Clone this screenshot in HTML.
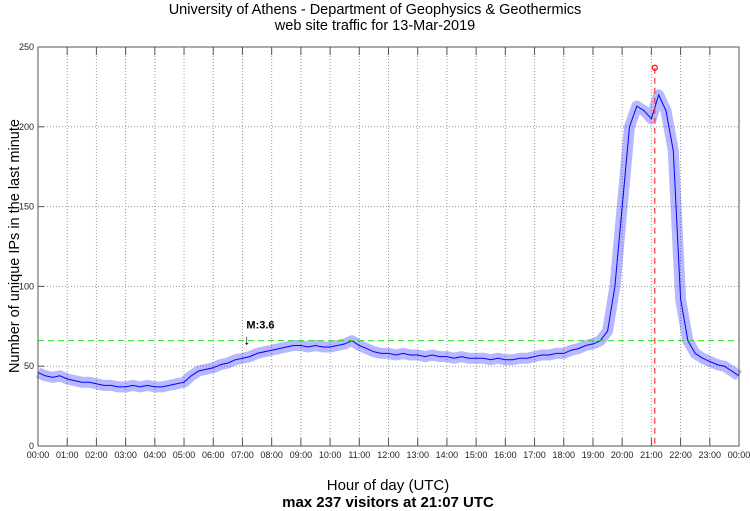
<!DOCTYPE html>
<html><head><meta charset="utf-8"><style>
body{margin:0;background:#fff;}
svg{display:block;font-family:"Liberation Sans",sans-serif;}
</style></head><body>
<svg id="chart" width="750" height="511" viewBox="0 0 750 511" xmlns="http://www.w3.org/2000/svg">
<text x="375" y="14" text-anchor="middle" font-size="14.5">University of Athens - Department of Geophysics &amp; Geothermics</text>
<text x="375" y="30" text-anchor="middle" font-size="14.5">web site traffic for 13-Mar-2019</text>
<text transform="translate(19,246) rotate(-90)" text-anchor="middle" font-size="14.5">Number of unique IPs in the last minute</text>
<text x="388" y="490" text-anchor="middle" font-size="15">Hour of day (UTC)</text>
<text x="388" y="507" text-anchor="middle" font-size="15" font-weight="bold">max 237 visitors at 21:07 UTC</text>
<g id="grid"></g>
<g id="series"></g>
<rect x="38" y="47" width="701" height="399" fill="none" stroke="#555" stroke-width="1"/>
</svg>
<script>
const hours = ["00:00","01:00","02:00","03:00","04:00","05:00","06:00","07:00","08:00","09:00","10:00","11:00","12:00","13:00","14:00","15:00","16:00","17:00","18:00","19:00","20:00","21:00","22:00","23:00","00:00"];
const yTicks = [0,50,100,150,200,250];
// visitors sampled every 15 minutes from 00:00 to 24:00
const visitors = [46,44,43,44, 42,41,40,40, 39,38,38,37, 37,38,37,38, 37,37,38,39, 40,44,47,48,
 49,51,52,54, 55,56,58,59, 60,61,62,63, 63,62,63,62, 62,63,64,66, 63,61,59,58, 58,57,58,57,
 57,56,57,56, 56,55,56,55, 55,55,54,55, 54,54,55,55, 56,57,57,58, 58,60,61,63, 64,66,72,100,
 150,200,213,210, 205,220,210,185, 92,66,58,55, 53,51,50,47, 44];
const sampleMinutes = 15;
const thresholdValue = 66;
const eventLabel = "M:3.6";
const eventHour = 7.17;
const maxValue = 237;
const maxHour = 21 + 7/60;

const X0=38, X1=739, Y0=446, Y1=47;
const xs = h => X0 + h/24*(X1-X0);
const ys = v => Y0 - v/250*(Y0-Y1);
const NS="http://www.w3.org/2000/svg";
function mk(tag, attrs, parent){const e=document.createElementNS(NS,tag);for(const k in attrs)e.setAttribute(k,attrs[k]);parent.appendChild(e);return e;}
const grid=document.getElementById('grid'), series=document.getElementById('series');

hours.forEach((lab,i)=>{
  const x=xs(i);
  if(i>0&&i<24){const l=mk('line',{x1:x,x2:x,y1:Y1,y2:Y0,stroke:'#999','stroke-dasharray':'1,2'},grid);
  
  }
  const t1=mk('line',{x1:x,x2:x,y1:Y0,y2:Y0-8,stroke:'#555'},grid);
  
  
  const t2=mk('line',{x1:x,x2:x,y1:Y1,y2:Y1+8,stroke:'#555'},grid);
  
  
  const tx=mk('text',{x:x,y:458,'text-anchor':'middle','font-size':'9',fill:'#222'},grid);
  tx.textContent=lab;
  
  
});
yTicks.forEach(v=>{
  const y=ys(v);
  if(v>0&&v<250){const l=mk('line',{x1:X0,x2:X1,y1:y,y2:y,stroke:'#999','stroke-dasharray':'1,2'},grid);
  
  }
  const t=mk('line',{x1:X0,x2:X0+6,y1:y,y2:y,stroke:'#555'},grid);
  
  
  const tx=mk('text',{x:34,y:y+3,'text-anchor':'end','font-size':'9',fill:'#222'},grid);
  tx.textContent=v;
  
  
});

const pts=visitors.map((v,i)=>xs(i*sampleMinutes/60).toFixed(1)+','+ys(v).toFixed(1)).join(' ');
const band=mk('polyline',{points:pts,fill:'none',stroke:'#0000ff','stroke-opacity':'0.28','stroke-width':'11','stroke-linejoin':'round'},series);


const line=mk('polyline',{points:pts,fill:'none',stroke:'#0000ff','stroke-width':'1'},series);



const th=mk('line',{x1:X0,x2:X1,y1:ys(thresholdValue),y2:ys(thresholdValue),stroke:'#22dd22','stroke-dasharray':'6,4'},series);



const ex=xs(eventHour);
const et=mk('text',{x:ex-1,y:ys(thresholdValue)-12,'font-size':'11','font-weight':'bold'},series);
et.textContent=eventLabel;


const ea=mk('text',{x:ex-4,y:ys(thresholdValue)+4,'font-size':'14'},series);
ea.textContent='↓';



const mx=xs(maxHour), my=ys(maxValue);
const vl=mk('line',{x1:mx,x2:mx,y1:my,y2:Y0,stroke:'#ff3333','stroke-dasharray':'6,4','stroke-width':'1.2'},series);


const mc=mk('circle',{cx:mx,cy:my,r:2.5,fill:'none',stroke:'#ff0000','stroke-width':'1.2'},series);


</script>
</body></html>
